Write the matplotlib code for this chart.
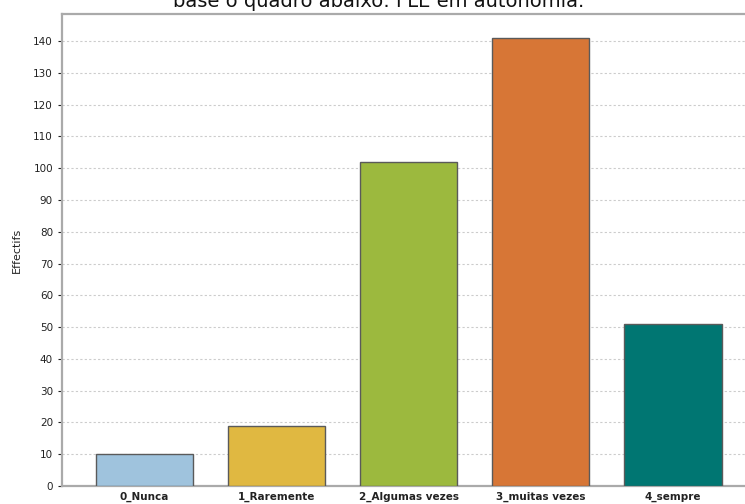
import matplotlib
matplotlib.use('Agg')
import matplotlib.pyplot as plt

# Data
categories = ['0_Nunca', '1_Raremente', '2_Algumas vezes', '3_muitas vezes', '4_sempre']
counts = [10, 19, 102, 141, 51]
colors = ['#9FC3DD', '#E0B841', '#9CB93E', '#D77636', '#007672']
yticks = list(range(0, 150, 10))

plt.rcParams['font.family'] = 'DejaVu Sans'

fig = plt.figure(figsize=(7.45, 5.04), dpi=100)
ax = fig.add_axes([62 / 745, 18 / 504, 1 - 62 / 745, (486 - 14) / 504])

x = range(len(categories))
ax.bar(x, counts, width=0.735, color=colors, edgecolor='#5a5a5a', linewidth=1.0, zorder=3)

ax.set_xlim(-0.625, 4.545)
ax.set_ylim(0, 148.5)
ax.set_yticks(yticks)
ax.set_xticks(list(x))
ax.set_xticklabels(categories, fontsize=7.5, fontweight='bold', color='#222222')
ax.tick_params(axis='y', labelsize=7.5, colors='#222222', length=3, width=0.8)
ax.tick_params(axis='x', length=0, pad=4)
for lbl in ax.get_yticklabels():
    lbl.set_color('#222222')

ax.yaxis.grid(True, linestyle=(0, (2, 2)), color='#cccccc', linewidth=0.8, zorder=0)
ax.set_axisbelow(True)

ax.spines['right'].set_visible(False)
for side in ['left', 'top', 'bottom']:
    ax.spines[side].set_color('#aaaaaa')
    ax.spines[side].set_linewidth(1.6)

ax.set_ylabel('Effectifs', fontsize=8, color='#222222', labelpad=8)

# Title (cut off at the top in the original)
fig.text(379 / 745, 1 - 7 / 504, 'base o quadro abaixo: FLE em autonomia.',
         ha='center', va='baseline', fontsize=14, color='#111111')

fig.savefig('out.png', dpi=100, facecolor='white')
